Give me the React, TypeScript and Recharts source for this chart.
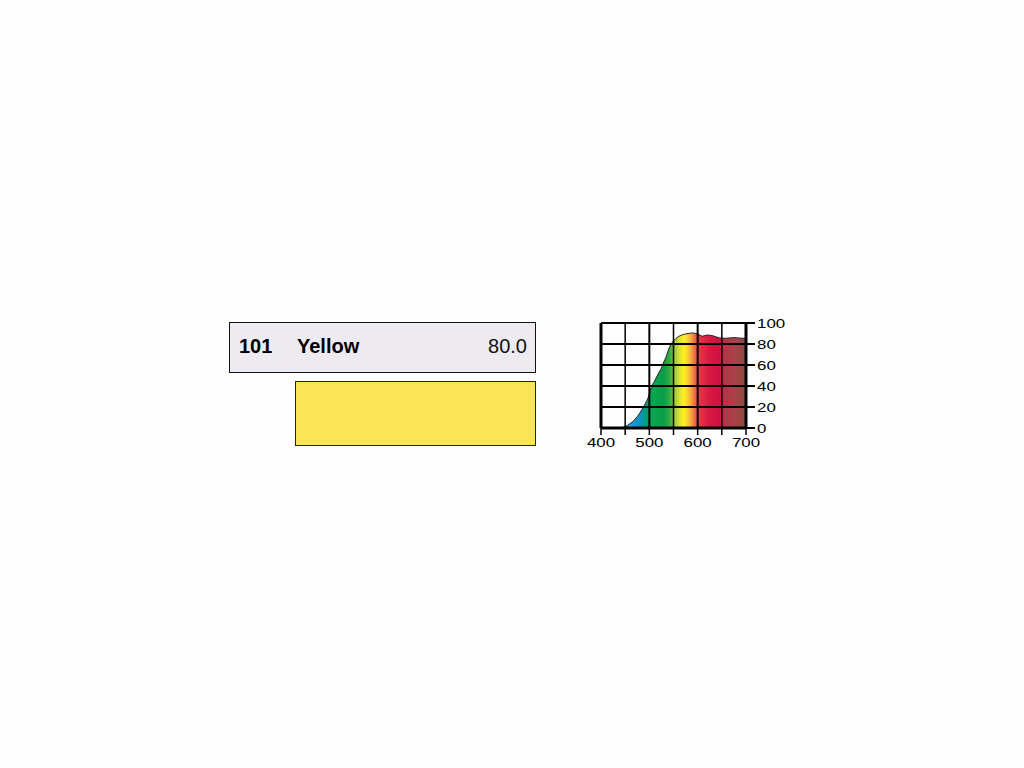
import { AreaChart, Area, XAxis, YAxis, ReferenceLine } from 'recharts';

// transmission curve
const wavelengths = [400, 420, 440, 450, 460, 470, 480, 490, 500, 505, 510, 520, 525, 530, 535, 540, 545, 550, 560, 570, 580, 590, 600, 610, 620, 630, 640, 650, 660, 670, 680, 690, 700];
const transmission = [0, 0, 0.3, 1.5, 4, 8, 14, 22, 32, 40, 44, 53, 57, 63, 68, 75, 80, 83, 87, 89, 90, 90.5, 89.5, 87.5, 88.5, 88, 86.5, 85.5, 85.5, 86, 86, 85.5, 85.5];

const xTicks = [400, 450, 500, 550, 600, 650, 700];
const yTicks = [0, 20, 40, 60, 80, 100];
const xGrid = [450, 500, 550, 600, 650];
const yGrid = [20, 40, 60, 80];

const filterCode = '101';
const filterName = 'Yellow';
const filterValue = '80.0';

const data = wavelengths.map((w, i) => ({ nm: w, t: transmission[i] }));

// spectrum colours along the wavelength axis
const spectrum: [number, string][] = [
  [400, '#3aa6dc'],
  [450, '#46b2e2'],
  [465, '#1e9ad8'],
  [480, '#1190c8'],
  [490, '#009c90'],
  [497, '#00a25c'],
  [505, '#08a550'],
  [530, '#0a9e48'],
  [543, '#3aae48'],
  [553, '#9ccc40'],
  [563, '#e2e22e'],
  [572, '#fff21e'],
  [582, '#f8c03e'],
  [592, '#f07e40'],
  [600, '#e53c46'],
  [625, '#d81842'],
  [645, '#cc1242'],
  [655, '#bb3048'],
  [675, '#a84248'],
  [700, '#8e4a40'],
];

const font = '"Liberation Sans", Arial, sans-serif';

const XTick = (props: any) => {
  const { x, y, payload } = props;
  if (payload.value % 100 !== 0) return <g />;
  return (
    <g transform={`translate(${x},${y})`}>
      <text transform="scale(1.3,1)" textAnchor="middle" dy={10} fontSize={13} fontFamily={font} fill="#000">
        {payload.value}
      </text>
    </g>
  );
};

const YTick = (props: any) => {
  const { x, y, payload } = props;
  return (
    <g transform={`translate(${x},${y})`}>
      <text transform="scale(1.3,1)" textAnchor="start" dy={4.6} fontSize={13} fontFamily={font} fill="#000">
        {payload.value}
      </text>
    </g>
  );
};

export default function App() {
  return (
    <div style={{ position: 'absolute', left: 0, top: 0, width: 1024, height: 768, background: '#fefefe', fontFamily: font }}>
      <div style={{ position: 'absolute', left: 229, top: 322, width: 307, height: 51, boxSizing: 'border-box', border: '1px solid #111', background: '#edebf0' }} />
      <span style={{ position: 'absolute', left: 239, top: 336, fontSize: 20, lineHeight: '20px', fontWeight: 'bold', color: '#000' }}>{filterCode}</span>
      <span style={{ position: 'absolute', left: 297, top: 336, fontSize: 20, lineHeight: '20px', fontWeight: 'bold', color: '#000' }}>{filterName}</span>
      <span style={{ position: 'absolute', right: 1024 - 527, top: 336, fontSize: 20, lineHeight: '20px', color: '#111' }}>{filterValue}</span>
      <div style={{ position: 'absolute', left: 295, top: 381, width: 241, height: 65, boxSizing: 'border-box', border: '1px solid #222', background: '#fae458' }} />

      <div style={{ position: 'absolute', left: 560, top: 300, width: 260, height: 170 }}>
        <AreaChart width={260} height={170} data={data} margin={{ top: 23, right: 34, bottom: 12, left: 41 }}>
          <defs>
            <linearGradient id="spectrum" x1="0" y1="0" x2="1" y2="0">
              {spectrum.map(([nm, c]) => (
                <stop key={nm} offset={`${((nm - 400) / 300) * 100}%`} stopColor={c} />
              ))}
            </linearGradient>
          </defs>
          <Area
            type="monotone"
            dataKey="t"
            stroke="#2a1e1e"
            strokeWidth={1}
            fill="url(#spectrum)"
            fillOpacity={1}
            dot={false}
            activeDot={false}
            isAnimationActive={false}
          />
          <XAxis
            dataKey="nm"
            type="number"
            domain={[400, 700]}
            ticks={xTicks}
            interval={0}
            axisLine={false}
            tickLine={{ stroke: '#000', strokeWidth: 1.5 }}
            tickSize={7}
            tickMargin={2}
            height={30}
            tick={<XTick />}
          />
          <YAxis
            orientation="right"
            type="number"
            domain={[0, 100]}
            ticks={yTicks}
            interval={0}
            axisLine={false}
            tickLine={{ stroke: '#000', strokeWidth: 2 }}
            tickSize={9}
            tickMargin={2}
            width={40}
            tick={<YTick />}
          />
          {xGrid.map((v) => (
            <ReferenceLine key={`x${v}`} x={v} stroke="#000" strokeWidth={v % 100 === 0 ? 2 : 1.5} />
          ))}
          {yGrid.map((v) => (
            <ReferenceLine key={`y${v}`} y={v} stroke="#000" strokeWidth={2} />
          ))}
          <ReferenceLine x={400} stroke="#000" strokeWidth={3} />
          <ReferenceLine x={700} stroke="#000" strokeWidth={3} />
          <ReferenceLine y={0} stroke="#000" strokeWidth={3} />
          <ReferenceLine y={100} stroke="#000" strokeWidth={2} />
        </AreaChart>
      </div>
    </div>
  );
}
